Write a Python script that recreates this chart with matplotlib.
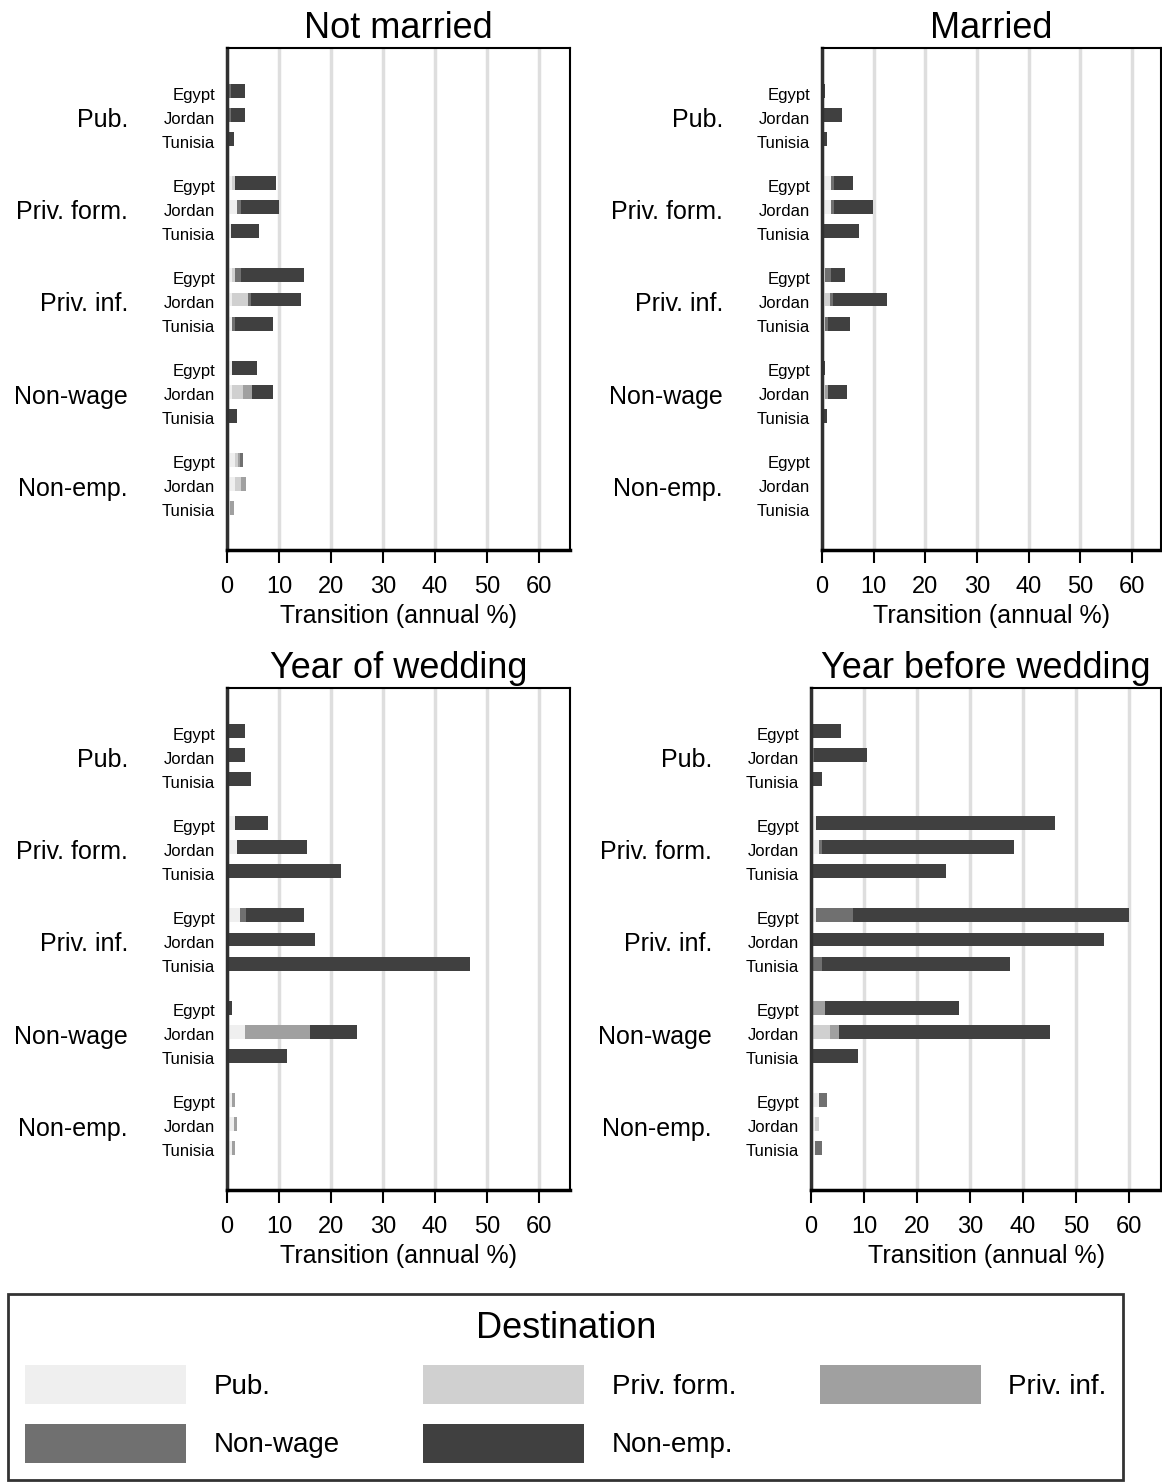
import numpy as np
import matplotlib.pyplot as plt
from matplotlib.patches import Patch

plt.rcParams['font.family'] = ['Liberation Sans', 'DejaVu Sans']

origins = ['Pub.', 'Priv. form.', 'Priv. inf.', 'Non-wage', 'Non-emp.']
countries = ['Egypt', 'Jordan', 'Tunisia']
destinations = ['Pub.', 'Priv. form.', 'Priv. inf.', 'Non-wage', 'Non-emp.']
dest_colors = ['#efefef', '#d0d0d0', '#a0a0a0', '#707070', '#404040']

# rows: origin x country (Egypt, Jordan, Tunisia), columns: destination
not_married = [
    [0, 0.3, 0, 0.4, 2.8], [0, 0.3, 0, 0.4, 2.8], [0, 0, 0, 0, 1.4],
    [0.9, 0.6, 0, 0, 8.0], [1.9, 0, 0, 0.7, 7.4], [0.8, 0, 0, 0, 5.4],
    [0.9, 0.6, 0, 1.1, 12.3], [0.9, 3.2, 0, 0.6, 9.6], [0.9, 0, 0, 0.6, 7.4],
    [0.9, 0, 0, 0, 4.8], [0.9, 2.2, 1.7, 0, 4.1], [0, 0, 0, 0, 1.9],
    [1.5, 0.6, 0.4, 0.5, 0], [1.5, 1.1, 1.0, 0, 0], [0.5, 0, 0.9, 0, 0],
]
married = [
    [0, 0, 0, 0, 0.5], [0, 0, 0, 0, 3.8], [0, 0, 0, 0, 1.0],
    [1.7, 0, 0, 0.6, 3.7], [1.7, 0, 0, 0.6, 7.6], [0, 0, 0, 0, 7.1],
    [0.6, 0, 0, 1.2, 2.6], [0.6, 1.0, 0, 0.6, 10.3], [0.6, 0, 0, 0.5, 4.3],
    [0, 0, 0, 0, 0.5], [0.6, 0, 0.5, 0, 3.8], [0, 0, 0, 0, 1.0],
    [0, 0, 0, 0.3, 0], [0, 0, 0.1, 0, 0], [0, 0, 0, 0.3, 0],
]
year_of = [
    [0, 0, 0, 0, 3.5], [0, 0, 0, 0, 3.5], [0, 0, 0, 0, 4.6],
    [1.5, 0, 0, 0, 6.3], [1.9, 0, 0, 0, 13.5], [0, 0, 0, 0, 21.9],
    [2.5, 0, 0, 1.1, 11.3], [0, 0, 0, 0, 17.0], [0, 0, 0, 0, 46.7],
    [0, 0, 0, 0, 0.9], [3.5, 0, 12.5, 0, 9.1], [0, 0, 0, 0, 11.6],
    [0.9, 0, 0.6, 0, 0], [1.3, 0, 0.6, 0, 0], [0.9, 0, 0.6, 0, 0],
]
year_before = [
    [0, 0, 0, 0, 5.7], [0, 0, 0, 0.5, 10.0], [0, 0, 0, 0, 2.0],
    [0.9, 0, 0, 0, 45.2], [1.6, 0, 0, 0.5, 36.1], [0, 0, 0, 0, 25.4],
    [0.9, 0, 0, 7.1, 52.0], [0, 0, 0, 0, 55.2], [0, 0, 0, 2.1, 35.5],
    [0, 0, 2.6, 0, 25.4], [0, 3.6, 1.6, 0, 39.9], [0, 0, 0, 0, 8.9],
    [1.6, 0, 0, 1.5, 0], [0.8, 0.7, 0, 0, 0], [0.8, 0, 0, 1.2, 0],
]

W, H = 1162, 1483
fig = plt.figure(figsize=(W / 100, H / 100), dpi=100)


def px_axes(l, t, r, b):
    return fig.add_axes([l / W, 1 - b / H, (r - l) / W, (b - t) / H])


gap = 3.83
pos = np.array([g * gap + c for g in range(len(origins)) for c in range(len(countries))])


def panel(ax, data, title, xmax):
    data = np.array(data)
    left = np.zeros(len(pos))
    for k in range(len(destinations)):
        ax.barh(pos, data[:, k], left=left, height=0.58, color=dest_colors[k],
                edgecolor='none', linewidth=0, zorder=2)
        left += data[:, k]
    ax.set_xlim(0, xmax)
    ax.set_ylim(pos[-1] + 1.75, -1.79)
    ax.set_xticks(np.arange(0, 61, 10))
    ax.set_yticks([])
    ax.tick_params(axis='x', length=9, width=1.5, labelsize=17, pad=10)
    ax.grid(axis='x', color='#dedede', lw=2.5, zorder=0)
    ax.set_axisbelow(True)
    for s in ['top', 'right']:
        ax.spines[s].set_linewidth(1.5)
    ax.spines['left'].set_linewidth(2.5)
    ax.spines['left'].set_color('#303030')
    ax.spines['bottom'].set_linewidth(2.5)
    ax.set_xlabel('Transition (annual %)', fontsize=18, labelpad=4)
    ax.set_title(title, fontsize=26, pad=7)
    for i, y in enumerate(pos):
        ax.annotate(countries[i % 3], xy=(0, y), xycoords=('axes fraction', 'data'),
                    xytext=(-12, -4), textcoords='offset pixels',
                    ha='right', va='center', fontsize=12)
    for g, name in enumerate(origins):
        ax.annotate(name, xy=(0, pos[g * 3 + 1]), xycoords=('axes fraction', 'data'),
                    xytext=(-99, -5), textcoords='offset pixels',
                    ha='right', va='center', fontsize=18)


panel(px_axes(227, 48, 570, 550), not_married, 'Not married', 66)
panel(px_axes(822, 48, 1161, 550), married, 'Married', 65.6)
panel(px_axes(227, 688, 570, 1190), year_of, 'Year of wedding', 66)
panel(px_axes(811, 688, 1161, 1190), year_before, 'Year before wedding', 66)

handles = [Patch(facecolor=c, edgecolor='none', label=l) for c, l in zip(dest_colors, destinations)]
order = [0, 3, 1, 4, 2]
leg = fig.legend(handles=[handles[i] for i in order], loc='upper left',
                 bbox_to_anchor=(8 / W, 1 - 1294 / H), ncol=3, title='Destination',
                 fontsize=20, title_fontsize=26, frameon=True, fancybox=False,
                 edgecolor='black', handlelength=5.8, handleheight=1.8,
                 handletextpad=1.0, columnspacing=3.0, labelspacing=0.7,
                 borderpad=0.6, borderaxespad=0)
leg.get_frame().set_linewidth(2)

plt.savefig('out.png', dpi=100)
